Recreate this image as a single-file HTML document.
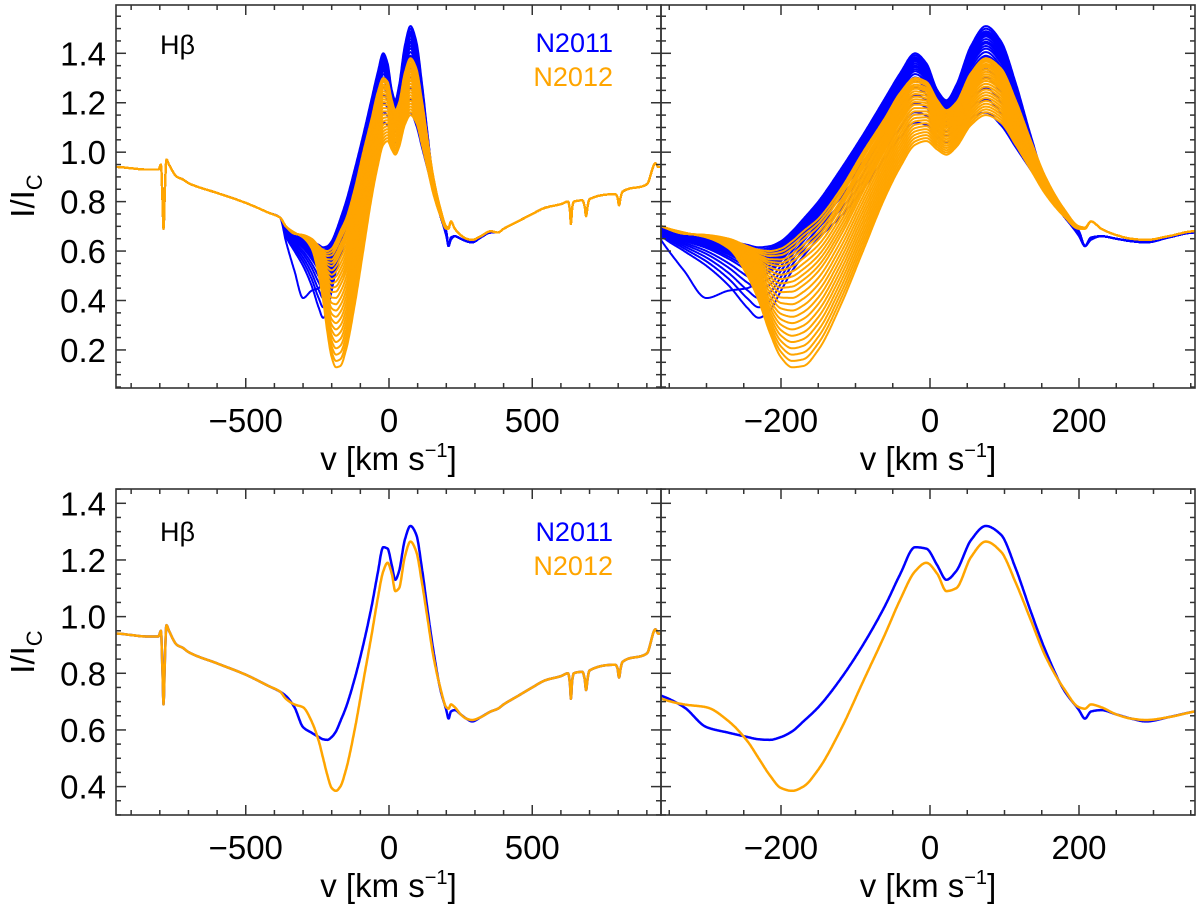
<!DOCTYPE html>
<html><head><meta charset="utf-8"><style>
html,body{margin:0;padding:0;background:#fff;}
svg{display:block;font-family:"Liberation Sans",Arial,sans-serif;}
</style></head><body>
<svg id="fig" width="1200" height="911" viewBox="0 0 1200 911" xmlns="http://www.w3.org/2000/svg">
<defs>
<clipPath id="cTL"><rect x="116" y="5" width="545" height="383"/></clipPath>
<clipPath id="cTR"><rect x="661" y="5" width="534" height="383"/></clipPath>
<clipPath id="cBL"><rect x="116" y="489" width="545" height="326"/></clipPath>
<clipPath id="cBR"><rect x="661" y="489" width="534" height="326"/></clipPath>
</defs>
</svg>
<script>
// ---------- data ----------
const contLeftV = [-960,-950,-900,-850,-805,-796,-791,-787,-783,-777,-768,-740,-720,-700,-600,-500,-420,-380];
const contLeftI = [0.94,0.94,0.935,0.93,0.93,0.95,0.82,0.69,0.82,0.97,0.95,0.90,0.89,0.875,0.835,0.795,0.755,0.735];
const contRightV = [380,400,450,500,545,600,625,631,635,639,645,675,683,688,693,700,790,797,803,809,815,900,930,940,960];
const contRightI = [0.675,0.69,0.72,0.75,0.775,0.79,0.80,0.77,0.71,0.77,0.80,0.805,0.78,0.74,0.78,0.81,0.83,0.82,0.785,0.82,0.84,0.87,0.955,0.94,0.94];
const coreV = [-360,-330,-300,-270,-245,-230,-215,-200,-185,-170,-150,-120,-90,-60,-40,-20,-5,10,22,35,55,75,95,115,135,155,180,200,208,216,230,250,270,290,320,355];
const meanN2011 = [0.72,0.68,0.61,0.59,0.575,0.567,0.565,0.575,0.595,0.63,0.68,0.78,0.90,1.04,1.15,1.245,1.24,1.18,1.13,1.16,1.27,1.32,1.29,1.17,1.02,0.88,0.74,0.67,0.64,0.665,0.67,0.655,0.64,0.63,0.645,0.665];
const meanN2012 = [0.71,0.69,0.68,0.63,0.56,0.50,0.44,0.395,0.385,0.40,0.46,0.60,0.77,0.94,1.06,1.16,1.19,1.15,1.09,1.10,1.21,1.265,1.23,1.12,0.99,0.86,0.745,0.68,0.675,0.69,0.68,0.655,0.64,0.635,0.645,0.665];
const n2011High = [0.70,0.67,0.66,0.64,0.625,0.615,0.62,0.64,0.68,0.73,0.80,0.93,1.07,1.22,1.32,1.40,1.36,1.25,1.21,1.27,1.43,1.51,1.45,1.28,1.07,0.88,0.74,0.68,0.62,0.655,0.66,0.65,0.64,0.635,0.655,0.675];
const n2011Low  = [0.66,0.60,0.54,0.46,0.37,0.33,0.36,0.44,0.52,0.58,0.65,0.74,0.85,0.98,1.06,1.12,1.11,1.06,1.04,1.07,1.14,1.16,1.11,1.02,0.93,0.84,0.74,0.66,0.62,0.645,0.66,0.65,0.64,0.635,0.655,0.675];
const n2011Odd  = [0.64,0.52,0.41,0.44,0.45,0.48,0.52,0.57,0.62,0.67,0.73,0.84,0.96,1.10,1.21,1.30,1.29,1.21,1.17,1.21,1.33,1.39,1.34,1.19,1.01,0.86,0.74,0.67,0.62,0.65,0.66,0.65,0.64,0.635,0.655,0.675];
const n2012High = [0.70,0.67,0.665,0.65,0.62,0.605,0.60,0.61,0.64,0.68,0.73,0.85,1.00,1.14,1.24,1.30,1.285,1.21,1.17,1.20,1.32,1.38,1.34,1.21,1.05,0.90,0.77,0.70,0.695,0.72,0.69,0.665,0.65,0.645,0.66,0.68];
const n2012Low  = [0.70,0.675,0.655,0.61,0.50,0.40,0.27,0.17,0.13,0.135,0.20,0.38,0.60,0.82,0.94,1.03,1.045,1.01,0.99,1.02,1.11,1.15,1.12,1.03,0.93,0.83,0.74,0.69,0.69,0.72,0.69,0.665,0.65,0.645,0.66,0.68];
const weightsN2011 = [0,0.03,0.06,0.08,0.1,0.12,0.15,0.18,0.2,0.23,0.26,0.3,0.35,0.4,0.5,0.6,0.72,0.85,1.0];
const weightsN2012 = [0,0.03,0.06,0.1,0.13,0.16,0.2,0.24,0.28,0.32,0.36,0.4,0.45,0.5,0.55,0.6,0.65,0.7,0.75,0.8,0.85,0.9,0.95,1.0];
const xTicksWide = [-500,0,500];
const xTickLabelsWide = ["\u2212500","0","500"];
const xTicksZoom = [-200,0,200];
const xTickLabelsZoom = ["\u2212200","0","200"];
const yTicksTop = [0.2,0.4,0.6,0.8,1.0,1.2,1.4];
const yTickLabelsTop = ["0.2","0.4","0.6","0.8","1.0","1.2","1.4"];
const yTicksBot = [0.4,0.6,0.8,1.0,1.2,1.4];
const yTickLabelsBot = ["0.4","0.6","0.8","1.0","1.2","1.4"];

// ---------- helpers ----------
const NS = "http://www.w3.org/2000/svg";
const svg = document.getElementById('fig');
function mk(tag, attrs, parent){const e=document.createElementNS(NS,tag);for(const k in attrs)e.setAttribute(k,attrs[k]);(parent||svg).appendChild(e);return e;}
function monoSlopes(xs, ys){
  const n=xs.length, d=[], m=new Array(n);
  for(let i=0;i<n-1;i++) d.push((ys[i+1]-ys[i])/(xs[i+1]-xs[i]));
  m[0]=d[0]; m[n-1]=d[n-2];
  for(let i=1;i<n-1;i++){
    if(d[i-1]*d[i]<=0) m[i]=0;
    else { const h0=xs[i]-xs[i-1], h1=xs[i+1]-xs[i];
      const w1=2*h1+h0, w2=h1+2*h0;
      m[i]=(w1+w2)/(w1/d[i-1]+w2/d[i]); }
  }
  return m;
}
function makeInterp(xs, ys){
  const m=monoSlopes(xs,ys), n=xs.length;
  return function(x){
    if(x<=xs[0])return ys[0]; if(x>=xs[n-1])return ys[n-1];
    let lo=0, hi=n-1; while(hi-lo>1){const mid=(lo+hi)>>1; if(xs[mid]<=x)lo=mid; else hi=mid;}
    const i=lo, h=xs[i+1]-xs[i], t=(x-xs[i])/h, t2=t*t, t3=t2*t;
    return (2*t3-3*t2+1)*ys[i]+(t3-2*t2+t)*m[i]*h+(-2*t3+3*t2)*ys[i+1]+(t3-t2)*m[i+1]*h;
  };
}
function blend(a,b,w){return a.map((x,k)=>x*(1-w)+b[k]*w);}

const panels = {
  TL:{x0:116,x1:661,y0:5,y1:388,v0:-950,v1:950,vc:389,sx:0.2865,Iref:1.4,yref:53.3,sy:247.2,clip:'cTL'},
  TR:{x0:661,x1:1195,y0:5,y1:388,v0:-361,v1:355,vc:930,sx:0.745,Iref:1.4,yref:53.3,sy:247.2,clip:'cTR'},
  BL:{x0:116,x1:661,y0:489,y1:815,v0:-950,v1:950,vc:389,sx:0.2865,Iref:1.4,yref:503.3,sy:283.3,clip:'cBL'},
  BR:{x0:661,x1:1195,y0:489,y1:815,v0:-361,v1:355,vc:930,sx:0.745,Iref:1.4,yref:503.3,sy:283.3,clip:'cBR'}
};
function X(p,v){return p.vc+v*p.sx;}
function Y(p,I){return p.yref+(p.Iref-I)*p.sy;}

function drawCurve(p, core, color, width, name, parent){
  const f=makeInterp(contLeftV.concat(coreV, contRightV), contLeftI.concat(core, contRightI));
  const step = (p.v1-p.v0)>1000 ? 1.5 : 1;
  let d='';
  for(let v=p.v0-2; v<=p.v1+2; v+=step){
    d+=(d?'L':'M')+X(p,v).toFixed(1)+','+Y(p,f(v)).toFixed(1);
  }
  const el=mk('path',{d:d,fill:'none',stroke:color,'stroke-width':width,'stroke-linejoin':'round'},parent);
  
  
}

function drawAxes(p, name, xt, xtl, yt, ytl, showYLabels){
  const g=mk('g',{});
  
  
  const st={stroke:'#333','stroke-width':1.5};
  mk('rect',{x:p.x0,y:p.y0,width:p.x1-p.x0,height:p.y1-p.y0,fill:'none',stroke:'#333','stroke-width':1.6},g);
  const wide=(p.v1-p.v0)>1000, minorX=wide?100:50;
  for(let v=Math.ceil(p.v0/minorX)*minorX; v<=p.v1; v+=minorX){
    const x=X(p,v); const major = xt.indexOf(v)>=0;
    const L = major?10:5;
    mk('line',Object.assign({x1:x,x2:x,y1:p.y1,y2:p.y1-L},st),g);
    mk('line',Object.assign({x1:x,x2:x,y1:p.y0,y2:p.y0+L},st),g);
  }
  const Ilo=p.Iref-(p.y1-p.yref)/p.sy, Ihi=p.Iref+(p.yref-p.y0)/p.sy;
  for(let n=Math.ceil(Ilo/0.05-1e-6); n*0.05<=Ihi; n++){
    const I=n*0.05, y=Y(p,I); const major = (n%4===0);
    const L=major?10:5;
    mk('line',Object.assign({x1:p.x0,x2:p.x0+L,y1:y,y2:y},st),g);
    mk('line',Object.assign({x1:p.x1,x2:p.x1-L,y1:y,y2:y},st),g);
  }
  xt.forEach((v,i)=>{
    const t=mk('text',{x:X(p,v),y:p.y1+44,'text-anchor':'middle','font-size':33,fill:'#000'});
    t.textContent=xtl[i];
    
    
  });
  if(showYLabels){
    yt.forEach((I,i)=>{
      const t=mk('text',{x:p.x0-10,y:Y(p,I)+12,'text-anchor':'end','font-size':33,fill:'#000'});
      t.textContent=ytl[i];
      
      
    });
  }
  const xt2=mk('text',{x:(p.x0+p.x1)/2,y:p.y1+82,'text-anchor':'middle','font-size':33,fill:'#000'});
  xt2.innerHTML='v [km s<tspan dy="-13" font-size="20">\u22121</tspan><tspan dy="13">]</tspan>';
  
  
}

function drawYTitle(cy, name){
  const t=mk('text',{x:0,y:0,'text-anchor':'middle','font-size':33,fill:'#000',transform:'translate(34,'+cy+') rotate(-90)'});
  t.innerHTML='I/I<tspan dy="8" font-size="22">C</tspan>';
  
  
}

function labels(p, yH, yN1, yN2, name){
  const h=mk('text',{x:160,y:yH,'font-size':27,fill:'#000'}); h.textContent='H\u03B2';
  
  
  const a=mk('text',{x:613,y:yN1,'text-anchor':'end','font-size':27,fill:'#0000ff'}); a.textContent='N2011';
  
  
  const b=mk('text',{x:613,y:yN2,'text-anchor':'end','font-size':27,fill:'#ffa500'}); b.textContent='N2012';
  
  
}

// ---------- draw ----------
['TL','TR'].forEach(key=>{
  const p=panels[key];
  const g=mk('g',{'clip-path':'url(#'+p.clip+')'});
  
  
  weightsN2011.forEach(w=>drawCurve(p, blend(n2011High,n2011Low,w), '#0000ff', 2, 'n2011-spectrum', g));
  drawCurve(p, n2011Odd, '#0000ff', 2, 'n2011-spectrum', g);
  weightsN2012.forEach(w=>drawCurve(p, blend(n2012High,n2012Low,w), '#ffa500', 2, 'n2012-spectrum', g));
});
['BL','BR'].forEach(key=>{
  const p=panels[key];
  const g=mk('g',{'clip-path':'url(#'+p.clip+')'});
  
  
  drawCurve(p, meanN2011, '#0000ff', 2.5, 'n2011-mean-line', g);
  drawCurve(p, meanN2012, '#ffa500', 2.5, 'n2012-mean-line', g);
});
drawAxes(panels.TL,'top-left',xTicksWide,xTickLabelsWide,yTicksTop,yTickLabelsTop,true);
drawAxes(panels.TR,'top-right',xTicksZoom,xTickLabelsZoom,yTicksTop,yTickLabelsTop,false);
drawAxes(panels.BL,'bottom-left',xTicksWide,xTickLabelsWide,yTicksBot,yTickLabelsBot,true);
drawAxes(panels.BR,'bottom-right',xTicksZoom,xTickLabelsZoom,yTicksBot,yTickLabelsBot,false);
drawYTitle(196,'top-y-axis-title');
drawYTitle(652,'bottom-y-axis-title');
labels(panels.TL,54,52,86,'top');
labels(panels.BL,541,541,575,'bottom');
</script>
</body></html>
